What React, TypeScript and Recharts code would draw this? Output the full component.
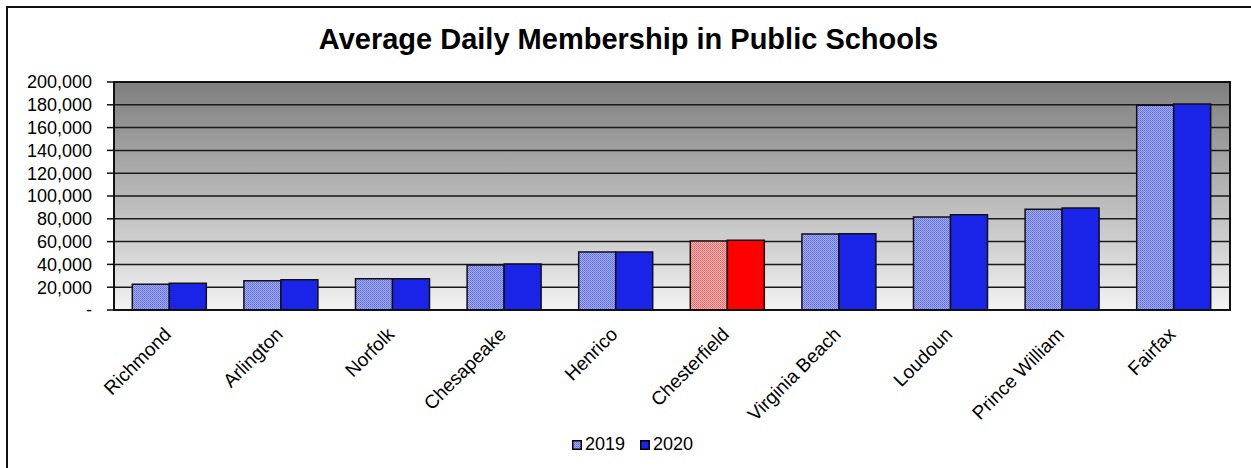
import React from "react";
import {
  BarChart,
  Bar,
  XAxis,
  YAxis,
  CartesianGrid,
  ReferenceArea,
  Legend,
  Cell,
} from "recharts";

const categories = [
  "Richmond",
  "Arlington",
  "Norfolk",
  "Chesapeake",
  "Henrico",
  "Chesterfield",
  "Virginia Beach",
  "Loudoun",
  "Prince William",
  "Fairfax",
];
const y2019 = [22500, 25700, 27500, 39500, 50800, 60500, 66700, 81600, 88300, 179600];
const y2020 = [23400, 26600, 27400, 40400, 50900, 61100, 66800, 83500, 89500, 180800];
const yTicks = [0, 20000, 40000, 60000, 80000, 100000, 120000, 140000, 160000, 180000, 200000];
const highlight = "Chesterfield";

const data = categories.map((name, i) => ({ name, y2019: y2019[i], y2020: y2020[i] }));

const FONT = "'Liberation Sans', Arial, sans-serif";
const BLUE = "#1a24e8";

const XTick = ({ x, y, payload }: any) => (
  <g transform={`translate(${x - 7},${y + 4})`}>
    <text
      textAnchor="end"
      transform="rotate(-45)"
      dy="0.71em"
      fontSize={19}
      fontFamily={FONT}
      fill="#000"
    >
      {payload.value}
    </text>
  </g>
);

const LegendBox = () => (
  <div
    style={{
      display: "flex",
      justifyContent: "center",
      alignItems: "center",
      fontFamily: FONT,
      fontSize: 18,
      color: "#000",
    }}
  >
    <svg width={10} height={10} style={{ marginRight: 3 }}>
      <rect x={0.75} y={0.75} width={8.5} height={8.5} fill="url(#pat2019)" stroke="#000" strokeWidth={1.5} />
    </svg>
    <span style={{ marginRight: 15 }}>2019</span>
    <svg width={10} height={10} style={{ marginRight: 3 }}>
      <rect x={0.75} y={0.75} width={8.5} height={8.5} fill={BLUE} stroke="#000" strokeWidth={1.5} />
    </svg>
    <span>2020</span>
  </div>
);

export default function App() {
  return (
    <div
      style={{
        position: "absolute",
        left: 0,
        top: 0,
        width: 1251,
        height: 468,
        background: "#fff",
        overflow: "hidden",
      }}
    >
      <div
        style={{
          position: "absolute",
          left: 6,
          top: 6,
          width: 1300,
          height: 500,
          border: "2px solid #111",
        }}
      />
      <div
        style={{
          position: "absolute",
          left: 0,
          top: 23,
          width: 1257,
          textAlign: "center",
          fontFamily: FONT,
          fontWeight: "bold",
          fontSize: 29,
          color: "#000",
        }}
      >
        Average Daily Membership in Public Schools
      </div>
      <div style={{ position: "absolute", left: 0, top: 0 }}>
        <BarChart
          width={1251}
          height={468}
          data={data}
          margin={{ top: 82, right: 21, left: 14, bottom: 38 }}
          barCategoryGap="16.4%"
          barGap={0}
        >
          <defs>
            <linearGradient id="bgGrad" x1="0" y1="0" x2="0" y2="1">
              <stop offset="0%" stopColor="#7e7e7e" />
              <stop offset="100%" stopColor="#f2f2f2" />
            </linearGradient>
            <pattern id="pat2019" width={2} height={2} patternUnits="userSpaceOnUse">
              <rect width={2} height={2} fill="#aab3fa" />
              <rect width={1} height={1} fill="#5566ee" />
              <rect x={1} y={1} width={1} height={1} fill="#6a79f0" />
            </pattern>
            <pattern id="patRed" width={2} height={2} patternUnits="userSpaceOnUse">
              <rect width={2} height={2} fill="#ffc0c0" />
              <rect width={1} height={1} fill="#ff5555" />
              <rect x={1} y={1} width={1} height={1} fill="#ff6a6a" />
            </pattern>
          </defs>
          <CartesianGrid
            vertical={false}
            stroke="#1a1a1a"
            strokeWidth={1.5}
            fill="url(#bgGrad)"
            fillOpacity={1}
          />
          <XAxis
            dataKey="name"
            interval={0}
            height={120}
            tickLine={false}
            axisLine={{ stroke: "#111", strokeWidth: 2 }}
            tick={<XTick />}
            tickMargin={6}
          />
          <YAxis
            width={100}
            domain={[0, 200000]}
            ticks={yTicks}
            interval={0}
            tickSize={7}
            tickMargin={15}
            tickLine={{ stroke: "#111", strokeWidth: 1.5 }}
            axisLine={{ stroke: "#111", strokeWidth: 2 }}
            tick={{ fontSize: 18, fontFamily: FONT, fill: "#000" }}
            tickFormatter={(v: number) => (v === 0 ? "-" : v.toLocaleString("en-US"))}
          />
          <Bar dataKey="y2019" name="2019" fill="url(#pat2019)" stroke="#111" strokeWidth={1.5} isAnimationActive={false}>
            {data.map((d, i) => (
              <Cell key={`a-${i}`} fill={d.name === highlight ? "url(#patRed)" : "url(#pat2019)"} />
            ))}
          </Bar>
          <Bar dataKey="y2020" name="2020" fill={BLUE} stroke="#111" strokeWidth={1.5} isAnimationActive={false}>
            {data.map((d, i) => (
              <Cell key={`b-${i}`} fill={d.name === highlight ? "#ff0000" : BLUE} />
            ))}
          </Bar>
          <ReferenceArea y1={0} y2={200000} fill="none" stroke="#111" strokeWidth={2} ifOverflow="visible" />
          <Legend
            verticalAlign="middle"
            align="center"
            layout="horizontal"
            content={<LegendBox />}
            wrapperStyle={{ top: 434, left: 7, width: 1251 }}
          />
        </BarChart>
      </div>
    </div>
  );
}
